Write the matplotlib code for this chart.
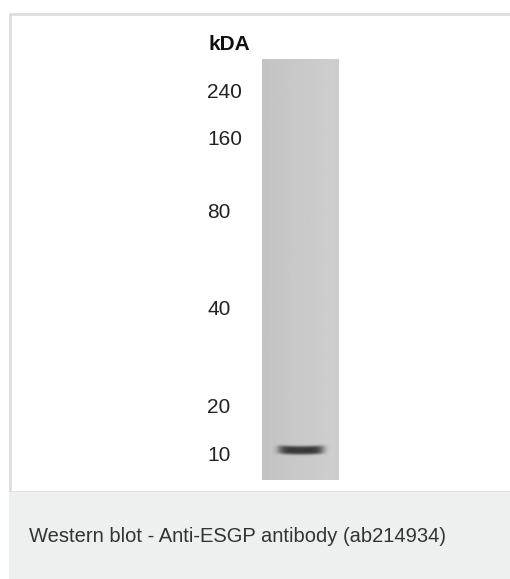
"""
Western blot panel: one lane with a marker ladder (kDa) and a single band.
"""

import matplotlib.pyplot as plt
import numpy as np
from matplotlib.patches import Rectangle

# Marker ladder: kDa labels and where each one ran on the gel (pixels from top)
marker_kda = ["240", "160", "80", "40", "20", "10"]
marker_migration = [92, 139, 212, 309, 407, 455]

# Detected band (approx. 11 kDa) and its migration
band_kda = 11
band_migration = 450
band_intensity = 0.82

caption = "Western blot - Anti-ESGP antibody (ab214934)"

W, H = 510, 579
plt.rcParams["font.family"] = ["Liberation Sans", "DejaVu Sans"]
# tiny pad so the pixel size does not round down to 509x578
fig = plt.figure(figsize=(W / 100 + 1e-4, H / 100 + 1e-4), dpi=100)
ax = fig.add_axes([0, 0, 1, 1])
ax.set_xlim(0, W)
ax.set_ylim(H, 0)
ax.axis("off")

# panel frame and caption strip
ax.add_patch(Rectangle((10, 14), W + 20, 478, facecolor="white",
                       edgecolor="#dddddd", linewidth=2, clip_on=False))
ax.add_patch(Rectangle((9, 492), W + 20, H, facecolor="#eeefef",
                       edgecolor="none", clip_on=False))

# lane with a faint left-to-right gradient
lane_x0, lane_x1, lane_y0, lane_y1 = 262, 338, 60, 480
cols = np.linspace(0.765, 0.81, 80)
cols[-6:] = np.linspace(0.81, 0.795, 6)
grad = np.tile(cols, (10, 1))
ax.imshow(grad, cmap="gray", vmin=0, vmax=1, aspect="auto",
          extent=[lane_x0, lane_x1, lane_y1, lane_y0], zorder=2,
          interpolation="bilinear")

# band, drawn as a soft dark smear
bx0, bx1, by0, by1 = 272, 330, 440, 461
xx, yy = np.meshgrid(np.linspace(bx0, bx1, 120), np.linspace(by0, by1, 60))
xc, half_w = 300.5, 22.5
yc = band_migration + 0.8 * (1 - ((xx - xc) / half_w) ** 2).clip(0)
alpha = np.exp(-np.abs((xx - xc) / half_w) ** 6) * np.exp(-((yy - yc) / 4.2) ** 4)
rgba = np.zeros(xx.shape + (4,))
rgba[..., :3] = 0.18
rgba[..., 3] = alpha * band_intensity / 0.82 * 0.93
ax.imshow(rgba, aspect="auto", extent=[bx0, bx1, by1, by0], zorder=3,
          interpolation="bilinear")

# ladder labels
ax.text(208, 44, "kDA", fontsize=15, fontweight="bold", color="#111111",
        ha="left", va="center")
for lab, y in zip(marker_kda, marker_migration):
    ax.text(207, y, lab, fontsize=15, color="#222222", ha="left", va="center")

ax.text(29, 536, caption, fontsize=14.5, color="#333333", ha="left",
        va="center")

ax.set_xlim(0, W)
ax.set_ylim(H, 0)
fig.savefig("out.png", dpi=100)
plt.close(fig)
